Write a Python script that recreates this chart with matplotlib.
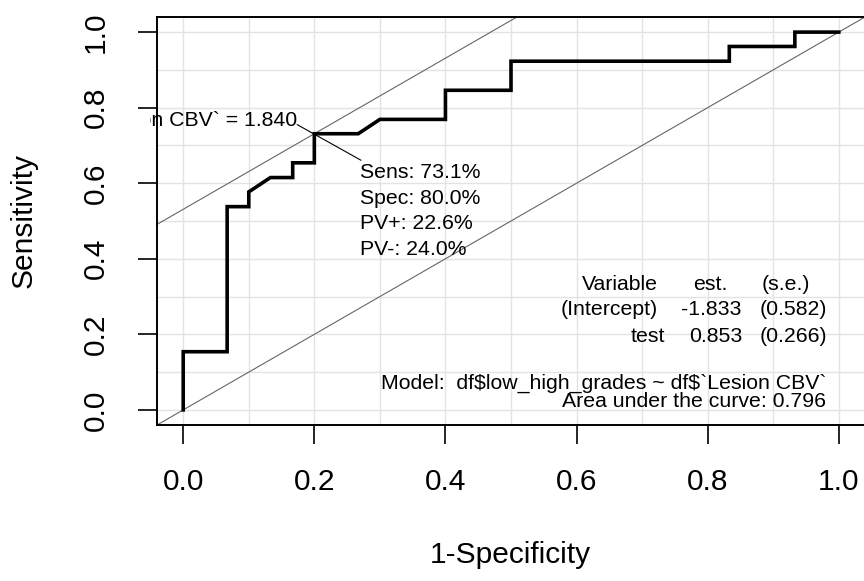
import numpy as np
import matplotlib.pyplot as plt
from matplotlib.transforms import Bbox, TransformedBbox

plt.rcParams['font.family'] = ['Liberation Sans', 'DejaVu Sans']

# ROC curve (1-specificity, sensitivity)
fpr = [0.0, 0.0, 0.067, 0.067, 0.1, 0.1, 0.133, 0.167, 0.167, 0.2, 0.2,
       0.267, 0.3, 0.4, 0.4, 0.5, 0.5, 0.833, 0.833, 0.933, 0.933, 1.0]
tpr = [0.0, 0.154, 0.154, 0.538, 0.538, 0.577, 0.615, 0.615, 0.654, 0.654, 0.731,
       0.731, 0.769, 0.769, 0.846, 0.846, 0.923, 0.923, 0.962, 0.962, 1.0, 1.0]

opt_x, opt_y = 0.2, 0.731
cutoff_label = "df$`Lesion CBV` = 1.840"
stats_lines = ["Sens: 73.1%", "Spec: 80.0%", "PV+: 22.6%", "PV-: 24.0%"]

tab_names = ["Variable", "(Intercept)", "test"]
tab_est = ["est.", "-1.833", "0.853"]
tab_se = ["(s.e.)", "(0.582)", "(0.266)"]
model_txt = "Model:  df$low_high_grades ~ df$`Lesion CBV`"
auc_txt = "Area under the curve: 0.796"

W, H = 864, 581
fig = plt.figure(figsize=(W / 100, H / 100), dpi=100)
ax = fig.add_axes([157 / W, 1 - 425 / H, 708 / W, 408 / H])
ax.set_xlim(-0.04, 1.04)
ax.set_ylim(-0.04, 1.04)

# grid every 0.1
ticks = np.arange(0, 1.01, 0.2)
ax.set_xticks(ticks)
ax.set_yticks(ticks)
ax.set_xticks(np.arange(0, 1.01, 0.1), minor=True)
ax.set_yticks(np.arange(0, 1.01, 0.1), minor=True)
ax.grid(True, which='both', color='#e3e3e3', lw=1.0, zorder=0)
ax.tick_params(which='minor', length=0)
ax.tick_params(which='major', length=14, width=1.2, direction='out', labelsize=21.5)
ax.tick_params(axis='x', pad=17)
ax.tick_params(axis='y', pad=20)
ax.set_xticklabels(["%.1f" % v for v in ticks])
ax.set_yticklabels(["%.1f" % v for v in ticks], rotation=90, va='center')
for s in ax.spines.values():
    s.set_linewidth(1.4)

# diagonal and optimal-point line
ax.axline((0, 0), slope=1, color='0.4', lw=0.8, zorder=2)
ax.axline((opt_x, opt_y), slope=1, color='0.4', lw=0.8, zorder=2)

ax.plot(fpr, tpr, color='black', lw=2.6, zorder=3, solid_joinstyle='miter')

# pointer to the optimal cut-off
ax.plot([0.174, 0.271], [0.755, 0.661], color='black', lw=0.8, zorder=3)
t = ax.text(0.174, 0.754, cutoff_label, ha='right', va='baseline', fontsize=15.3,
            clip_on=True, parse_math=False)
t.set_clip_box(TransformedBbox(Bbox([[150 / W, 0], [1, 1]]), fig.transFigure))
for i, s in enumerate(stats_lines):
    ax.text(0.270, 0.613 - i * 0.0675, s, ha='left', va='baseline', fontsize=15.3)

# coefficient table
row_y = [0.317, 0.251, 0.1805]
name_x = [0.724, 0.724, 0.735]
est_x = [0.831, 0.851, 0.853]
se_x = [0.956, 0.982, 0.982]
for i in range(3):
    ax.text(name_x[i], row_y[i], tab_names[i], ha='right', va='baseline', fontsize=15.3)
    ax.text(est_x[i], row_y[i], tab_est[i], ha='right', va='baseline', fontsize=15.3)
    ax.text(se_x[i], row_y[i], tab_se[i], ha='right', va='baseline', fontsize=15.3)
ax.text(0.982, 0.055, model_txt, ha='right', va='baseline', fontsize=15.3,
        parse_math=False)
ax.text(0.980, 0.0085, auc_txt, ha='right', va='baseline', fontsize=15.3)

fig.text(510 / W, 1 - 563 / H, "1-Specificity", ha='center', va='baseline', fontsize=21.5)
fig.text(24 / W, 1 - 221 / H, "Sensitivity", ha='center', va='center', rotation=90,
         fontsize=21.5)

fig.savefig("out.png", dpi=100)
